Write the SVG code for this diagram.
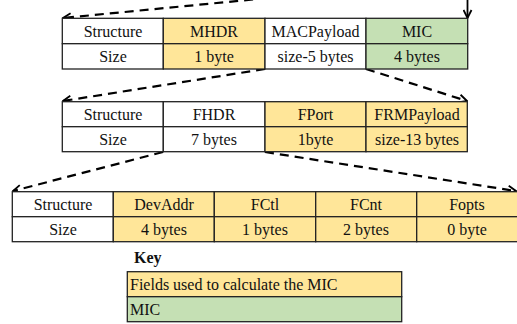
<svg xmlns="http://www.w3.org/2000/svg" width="517" height="324" viewBox="0 0 517 324">
<defs>
<style>
.c{stroke:#222;stroke-width:1.3}
.w{fill:#fff}
.y{fill:#FFE699}
.g{fill:#C5E0B4}
text{font-family:"Liberation Serif","Times New Roman",serif;font-size:16px;fill:#111}
.t{text-anchor:middle}
.d{fill:none;stroke:#000;stroke-width:2.2;stroke-dasharray:9 6}
</style>
<marker id="ah" viewBox="0 0 10 10" refX="9" refY="5" markerWidth="10" markerHeight="10" markerUnits="userSpaceOnUse" orient="auto"><path d="M1,1 L9,5 L1,9" fill="none" stroke="#000" stroke-width="1.8"/></marker>
</defs>
<rect width="517" height="324" fill="#fff"/>
<g id="connectors">
<line class="d" x1="268" y1="-2" x2="63" y2="18" marker-end="url(#ah)"/>
<line x1="467.5" y1="0" x2="467.5" y2="18" stroke="#000" stroke-width="1.8" marker-end="url(#ah)"/>
<line class="d" x1="265" y1="69" x2="63" y2="101" marker-end="url(#ah)"/>
<line class="d" x1="366" y1="69" x2="467" y2="101" marker-end="url(#ah)"/>
<line class="d" x1="163" y1="152" x2="13" y2="191" marker-end="url(#ah)"/>
<line class="d" x1="265" y1="152" x2="516" y2="191" marker-end="url(#ah)"/>
</g>
<g id="table1">
<rect class="c w" x="62.3" y="18.3" width="101" height="25.4"/>
<rect class="c y" x="163.3" y="18.3" width="101.7" height="25.4"/>
<rect class="c w" x="265" y="18.3" width="101" height="25.4"/>
<rect class="c g" x="366" y="18.3" width="101.7" height="25.4"/>
<rect class="c w" x="62.3" y="43.7" width="101" height="25.3"/>
<rect class="c y" x="163.3" y="43.7" width="101.7" height="25.3"/>
<rect class="c w" x="265" y="43.7" width="101" height="25.3"/>
<rect class="c g" x="366" y="43.7" width="101.7" height="25.3"/>
<text class="t" x="113" y="36.5">Structure</text>
<text class="t" x="214" y="36.5">MHDR</text>
<text class="t" x="315.5" y="36.5">MACPayload</text>
<text class="t" x="417" y="36.5">MIC</text>
<text class="t" x="113" y="61.5">Size</text>
<text class="t" x="214" y="61.5">1 byte</text>
<text class="t" x="315.5" y="61.5">size-5 bytes</text>
<text class="t" x="417" y="61.5">4 bytes</text>
</g>
<g id="table2">
<rect class="c w" x="62.3" y="101.7" width="101" height="25"/>
<rect class="c w" x="163.3" y="101.7" width="101.7" height="25"/>
<rect class="c y" x="265" y="101.7" width="101" height="25"/>
<rect class="c y" x="366" y="101.7" width="101.3" height="25"/>
<rect class="c w" x="62.3" y="126.7" width="101" height="25"/>
<rect class="c w" x="163.3" y="126.7" width="101.7" height="25"/>
<rect class="c y" x="265" y="126.7" width="101" height="25"/>
<rect class="c y" x="366" y="126.7" width="101.3" height="25"/>
<text class="t" x="113" y="119.5">Structure</text>
<text class="t" x="214" y="119.5">FHDR</text>
<text class="t" x="315.5" y="119.5">FPort</text>
<text class="t" x="417" y="119.5">FRMPayload</text>
<text class="t" x="113" y="144.5">Size</text>
<text class="t" x="214" y="144.5">7 bytes</text>
<text class="t" x="315.5" y="144.5">1byte</text>
<text class="t" x="417" y="144.5">size-13 bytes</text>
</g>
<g id="table3">
<rect class="c w" x="12.3" y="191.7" width="101" height="25"/>
<rect class="c y" x="113.3" y="191.7" width="101" height="25"/>
<rect class="c y" x="214.3" y="191.7" width="101.4" height="25"/>
<rect class="c y" x="315.7" y="191.7" width="101" height="25"/>
<rect class="c y" x="416.7" y="191.7" width="101" height="25"/>
<rect class="c w" x="12.3" y="216.7" width="101" height="25"/>
<rect class="c y" x="113.3" y="216.7" width="101" height="25"/>
<rect class="c y" x="214.3" y="216.7" width="101.4" height="25"/>
<rect class="c y" x="315.7" y="216.7" width="101" height="25"/>
<rect class="c y" x="416.7" y="216.7" width="101" height="25"/>
<text class="t" x="63" y="209.5">Structure</text>
<text class="t" x="164" y="209.5">DevAddr</text>
<text class="t" x="265" y="209.5">FCtl</text>
<text class="t" x="366" y="209.5">FCnt</text>
<text class="t" x="467" y="209.5">Fopts</text>
<text class="t" x="63" y="234.5">Size</text>
<text class="t" x="164" y="234.5">4 bytes</text>
<text class="t" x="265" y="234.5">1 bytes</text>
<text class="t" x="366" y="234.5">2 bytes</text>
<text class="t" x="467" y="234.5">0 byte</text>
</g>
<g id="key">
<text x="134" y="263" font-weight="bold">Key</text>
<rect class="c y" x="127.3" y="271.7" width="274.4" height="25"/>
<rect class="c g" x="127.3" y="296.7" width="274.4" height="25"/>
<text x="130" y="289.5">Fields used to calculate the MIC</text>
<text x="130" y="314.5">MIC</text>
</g>
</svg>
